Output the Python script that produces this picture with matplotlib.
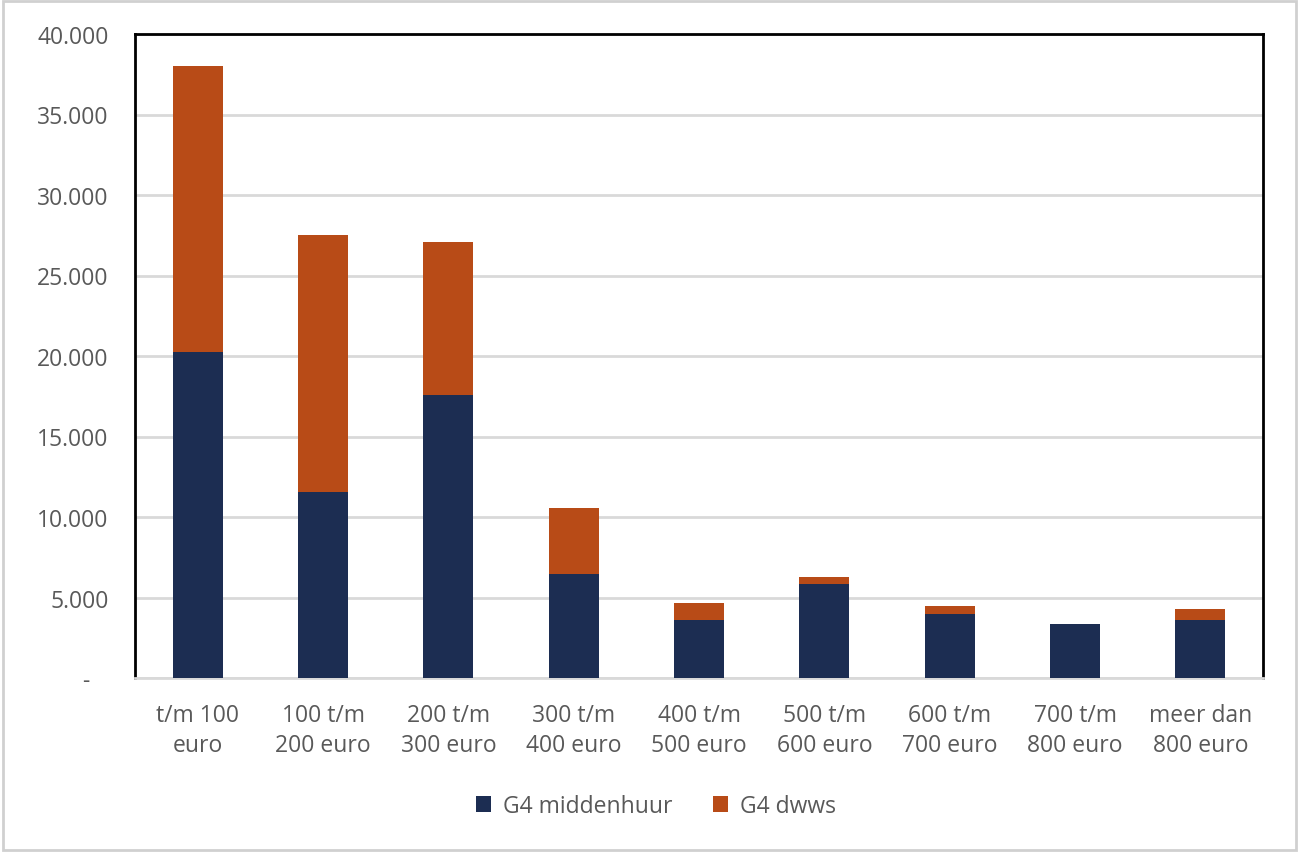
import numpy as np
import matplotlib.pyplot as plt
from matplotlib.ticker import FuncFormatter

plt.rcParams['font.family'] = ['Open Sans', 'DejaVu Sans']

# data
categories = ["t/m 100\neuro", "100 t/m\n200 euro", "200 t/m\n300 euro", "300 t/m\n400 euro",
              "400 t/m\n500 euro", "500 t/m\n600 euro", "600 t/m\n700 euro", "700 t/m\n800 euro",
              "meer dan\n800 euro"]
middenhuur = [20250, 11550, 17600, 6450, 3620, 5830, 3980, 3350, 3620]
dwws = [17750, 15950, 9480, 4120, 1020, 420, 480, 0, 650]

navy = "#1c2d52"
orange = "#b84b17"
grey_txt = "#595959"
fs = 16.5

fig = plt.figure(figsize=(12.99, 8.53), dpi=100)
ax = fig.add_axes([135/1299, 1 - 679/853, (1263-135)/1299, (679-35)/853])

x = np.arange(len(categories))
ax.bar(x, middenhuur, width=0.4, color=navy, label="G4 middenhuur", zorder=3)
ax.bar(x, dwws, width=0.4, bottom=middenhuur, color=orange, label="G4 dwws", zorder=3)

ax.set_xlim(-0.5, len(categories) - 0.5)
ax.set_ylim(0, 40000)
ax.set_yticks(np.arange(0, 40001, 5000))

def fmt(v, pos):
    if v == 0:
        return "-   "
    return f"{int(v):,}".replace(",", ".")
ax.yaxis.set_major_formatter(FuncFormatter(fmt))

ax.grid(axis='y', color="#d9d9d9", linewidth=2, zorder=0)
ax.set_xticks(x)
ax.set_xticklabels(categories, fontsize=fs, color=grey_txt, linespacing=1.35)
ax.tick_params(axis='y', labelsize=fs, labelcolor=grey_txt, length=0, pad=19)
ax.tick_params(axis='x', length=0, pad=18)

for s in ['left', 'top', 'right']:
    ax.spines[s].set_color('black')
    ax.spines[s].set_linewidth(2)
ax.spines['bottom'].set_color("#d9d9d9")
ax.spines['bottom'].set_linewidth(2)

ax.legend(loc='center', bbox_to_anchor=(0.505, 1 - 807/853), bbox_transform=fig.transFigure,
          ncol=2, frameon=False, fontsize=fs, labelcolor=grey_txt,
          handlelength=0.65, handleheight=0.65, columnspacing=1.8, handletextpad=0.5)

# outer border
fig.patches.append(plt.Rectangle((0.002, 0.002), 0.996, 0.996, transform=fig.transFigure,
                                 fill=False, edgecolor="#d0d0d0", linewidth=2))

fig.savefig("out.png", dpi=100)
